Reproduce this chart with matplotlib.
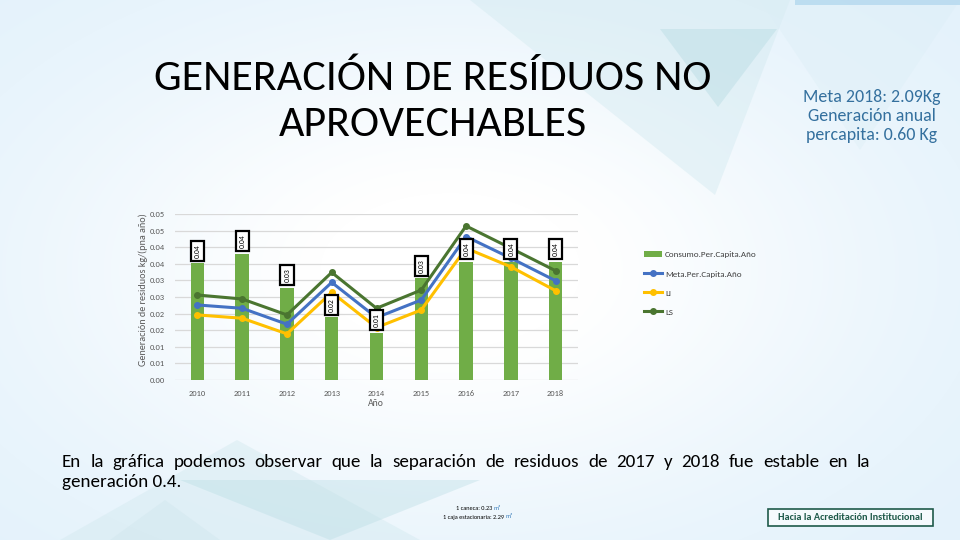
import numpy as np
import matplotlib
matplotlib.use('Agg')
import matplotlib.pyplot as plt
from matplotlib import font_manager
from matplotlib.patches import Polygon, Rectangle

# ---------------- data ----------------
years = ['2010', '2011', '2012', '2013', '2014', '2015', '2016', '2017', '2018']
consumo = [0.0351, 0.0381, 0.0278, 0.0189, 0.0143, 0.0306, 0.0356, 0.0356, 0.0356]
meta = [0.0226, 0.0216, 0.0168, 0.0294, 0.0188, 0.0241, 0.0432, 0.0367, 0.0299]
li = [0.0196, 0.0186, 0.0139, 0.0264, 0.0158, 0.0211, 0.0397, 0.0341, 0.0269]
ls = [0.0256, 0.0244, 0.0196, 0.0324, 0.0216, 0.0271, 0.0464, 0.0397, 0.0329]
ytick_values = [0.0, 0.005, 0.01, 0.015, 0.02, 0.025, 0.03, 0.035, 0.04, 0.045, 0.05]
ytick_labels = ['0.00', '0.01', '0.01', '0.02', '0.02', '0.03', '0.03', '0.04', '0.04', '0.05', '0.05']
series_names = ['Consumo.Per.Capita.Año', 'Meta.Per.Capita.Año', 'LI', 'LS']

W, H = 960, 540
names = {f.name for f in font_manager.fontManager.ttflist}


def pick(*cands):
    for c in cands:
        if c in names:
            return c
    return 'DejaVu Sans'


narrow = pick('Carlito', 'Liberation Sans Narrow', 'Open Sans')
body = pick('Carlito', 'Open Sans', 'Lato')
plt.rcParams['font.family'] = [body, 'DejaVu Sans']

fig = plt.figure(figsize=(9.6, 5.4), dpi=100)
fig.patch.set_facecolor('white')

# ---------------- background ----------------
bg = fig.add_axes([0, 0, 1, 1], zorder=-5)
yy, xx = np.mgrid[0:H, 0:W]
t = np.exp(-((xx - 450) / 420.0) ** 2 - ((yy - 270) / 250.0) ** 2)
t = np.clip(t * 1.1, 0, 1)
c0 = np.array([0.885, 0.945, 0.985])
img = c0[None, None, :] * (1 - t[..., None]) + np.ones(3)[None, None, :] * t[..., None]
bg.imshow(img, extent=[0, W, H, 0], aspect='auto')
polys = [
    ([(470, 0), (790, 0), (715, 195)], '#CFE8EE', 0.4),
    ([(660, 29), (777, 29), (718, 107)], '#B8DCE3', 0.45),
    ([(760, 0), (960, 0), (860, 150)], '#DCEEF6', 0.4),
    ([(795, 0), (960, 0), (960, 5), (795, 5)], '#B3D8EE', 0.8),
    ([(60, 540), (237, 440), (420, 540)], '#D3E9EF', 0.45),
    ([(180, 480), (480, 480), (330, 540)], '#BADDE4', 0.4),
    ([(110, 540), (165, 500), (220, 540)], '#CFE5EC', 0.4),
]
for pts, col, a in polys:
    bg.add_patch(Polygon(pts, closed=True, fc=col, ec='none', alpha=a))
bg.add_patch(Rectangle((768, 509), 165, 17, fc='#F5FAFD', ec='#1F5A4A', lw=1.2))
bg.set_xlim(0, W)
bg.set_ylim(H, 0)
bg.axis('off')

# ---------------- chart ----------------
ax = fig.add_axes([175 / W, 1 - 380 / H, 403 / W, 166 / H])
ax.set_facecolor('none')
x = np.arange(len(years))
hb = ax.bar(x, consumo, width=0.3, color='#70AD47', label=series_names[0], zorder=2)
hm, = ax.plot(x, meta, color='#4472C4', lw=2.2, marker='o', ms=4, label=series_names[1], zorder=3)
hl, = ax.plot(x, li, color='#FFC000', lw=2.2, marker='o', ms=4, label=series_names[2], zorder=3)
hs, = ax.plot(x, ls, color='#4A7530', lw=2.2, marker='o', ms=4, label=series_names[3], zorder=3)
for i, v in enumerate(consumo):
    ax.annotate(f'{v:.2f}', (i, v), xytext=(0, 4), textcoords='offset points',
                rotation=90, ha='center', va='bottom', fontsize=5.5, color='black',
                bbox=dict(boxstyle='square,pad=0.4', fc='white', ec='black', lw=1.6),
                zorder=6, annotation_clip=False)
ax.set_xlim(-0.5, len(years) - 0.5)
ax.set_ylim(0, 0.05)
ax.set_xticks(x)
ax.set_xticklabels(years)
ax.set_yticks(ytick_values)
ax.set_yticklabels(ytick_labels)
ax.grid(axis='y', color='#D9D9D9', lw=0.9, zorder=0)
ax.set_axisbelow(True)
for s in ax.spines.values():
    s.set_visible(False)
ax.tick_params(length=0, labelsize=6, colors='#595959', pad=7)

fig.text(143 / W, 1 - 290 / H, 'Generación de residuos kg/(pna año)', rotation=90,
         ha='center', va='center', fontsize=7.3, color='#595959')
fig.text(376 / W, 1 - 403 / H, 'Año', ha='center', va='center', fontsize=7, color='#595959')

leg = ax.legend([hb, hm, hl, hs], series_names, loc='upper left',
                bbox_to_anchor=(636 / W, 1 - 243 / H), bbox_transform=fig.transFigure,
                frameon=False, fontsize=6.5, labelspacing=1.3, handlelength=2.0, handletextpad=0.3)
for txt in leg.get_texts():
    txt.set_color('#404040')

# ---------------- texts ----------------
r = fig.canvas.get_renderer()


def fit(tobj, width_px):
    w = tobj.get_window_extent(r).width
    tobj.set_fontsize(tobj.get_fontsize() * width_px / w)


t1 = fig.text(433 / W, 1 - 79 / H, 'GENERACIÓN DE RESÍDUOS NO', ha='center', va='center',
              fontsize=28, color='black', family=[narrow, 'DejaVu Sans'], fontweight='light')
fit(t1, 557)
t2 = fig.text(433 / W, 1 - 125 / H, 'APROVECHABLES', ha='center', va='center',
              fontsize=t1.get_fontsize(), color='black', family=[narrow, 'DejaVu Sans'], fontweight='light')

rt = ['Meta 2018: 2.09Kg', 'Generación anual', 'percapita: 0.60 Kg']
ry = [97, 116, 135]
ta = fig.text(872 / W, 1 - ry[0] / H, rt[0], ha='center', va='center', fontsize=10, color='#34709E',
              family=[narrow, 'DejaVu Sans'])
fit(ta, 137)
for s, yv in zip(rt[1:], ry[1:]):
    fig.text(872 / W, 1 - yv / H, s, ha='center', va='center', fontsize=ta.get_fontsize(),
             color='#34709E', family=[narrow, 'DejaVu Sans'])

# justified paragraph (baseline aligned)
line1 = 'En la gráfica podemos observar que la separación de residuos de 2017 y 2018 fue estable en la'
words = line1.split()
fs0 = 12.0
objs = [fig.text(0, 1 - 467 / H, w_, ha='left', va='baseline', fontsize=fs0, color='black') for w_ in words]
widths = [o.get_window_extent(r).width for o in objs]
target_gap = 9.0
fs = fs0 * (808 - target_gap * (len(words) - 1)) / sum(widths)
for o in objs:
    o.set_fontsize(fs)
widths = [o.get_window_extent(r).width for o in objs]
gap = (808 - sum(widths)) / (len(words) - 1)
xpos = 62
for o, wd in zip(objs, widths):
    o.set_x(xpos / W)
    xpos += wd + gap
fig.text(62 / W, 1 - 487 / H, 'generación 0.4.', ha='left', va='baseline', fontsize=fs, color='black')

# small notes
for (a, b, cx, yv) in [('1 caneca: 0.23 ', 'm³', 478, 508), ('1 caja estacionaria: 2.29 ', 'm³', 478, 517)]:
    ta_ = fig.text(0, 1 - yv / H, a, ha='left', va='center', fontsize=4.5, color='black')
    tb_ = fig.text(0, 1 - yv / H, b, ha='left', va='center', fontsize=4.5, color='#2E75B6')
    wa = ta_.get_window_extent(r).width
    wb = tb_.get_window_extent(r).width
    x0 = cx - (wa + wb) / 2
    ta_.set_x(x0 / W)
    tb_.set_x((x0 + wa) / W)

tl = fig.text(850 / W, 1 - 517.5 / H, 'Hacia la Acreditación Institucional', ha='center', va='center',
              fontsize=7, fontweight='bold', color='#1F5A4A', family=[narrow, 'DejaVu Sans'])
fit(tl, 146)

fig.savefig('out.png', dpi=100)
